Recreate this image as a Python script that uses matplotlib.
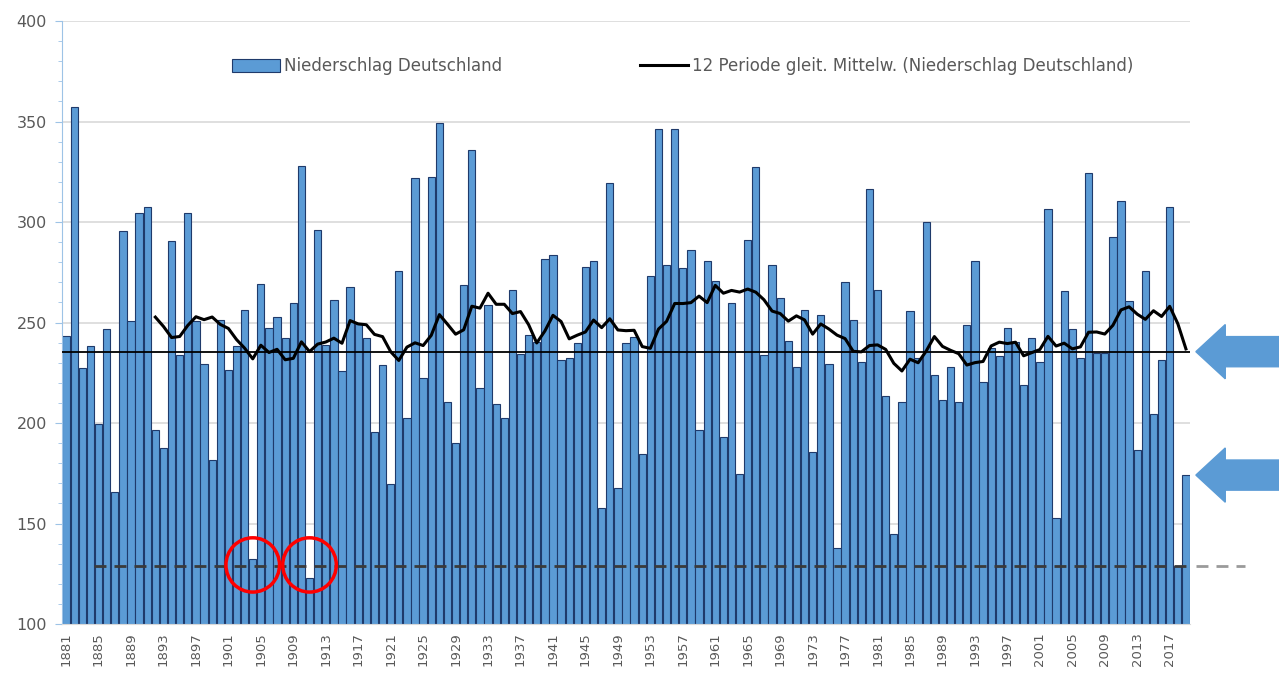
import numpy as np
import pandas as pd
import matplotlib.pyplot as plt
from matplotlib.patches import Ellipse, Polygon
from matplotlib import transforms


# 1. Dados

anos = np.arange(1881, 2020)

niederschlag = [
    243.4, 357.1, 227.5, 238.3, 199.5, 246.8, 165.5, 295.3, 250.6, 304.3,  # 1881-1890
    307.6, 196.4, 187.7, 290.8, 233.8, 304.7, 251.0, 229.3, 181.4, 251.4,  # 1891-1900
    226.2, 238.3, 256.0, 132.5, 269.1, 247.4, 252.8, 242.3, 259.5, 327.8,  # 1901-1910
    123.0, 296.2, 238.7, 261.3, 225.7, 267.6, 249.5, 242.3, 195.3, 228.9,  # 1911-1920
    169.6, 275.4, 202.7, 321.9, 222.4, 322.2, 349.5, 210.3, 189.9, 268.5,  # 1921-1930
    336.0, 217.5, 258.6, 209.4, 202.7, 266.4, 234.4, 243.8, 240.5, 281.7,  # 1931-1940
    283.5, 231.5, 232.5, 239.6, 277.6, 280.5, 157.5, 319.3, 167.5, 239.6,  # 1941-1950
    242.9, 184.4, 273.1, 346.3, 278.7, 346.3, 277.2, 285.9, 196.4, 280.5,  # 1951-1960
    270.5, 192.8, 259.5, 174.5, 291.3, 327.3, 233.8, 278.7, 262.4, 240.7,  # 1961-1970
    227.8, 256.4, 185.5, 253.7, 229.3, 138.0, 270.3, 251.4, 230.6, 316.5,  # 1971-1980
    266.4, 213.6, 144.7, 210.7, 255.9, 232.4, 299.8, 223.9, 211.6, 227.8,  # 1981-1990
    210.7, 248.6, 280.8, 220.6, 237.4, 233.3, 247.4, 240.5, 218.8, 242.3,  # 1991-2000
    230.6, 306.5, 152.8, 265.8, 246.8, 232.5, 324.6, 235.0, 235.0, 292.6,  # 2001-2010
    310.7, 260.9, 186.8, 275.4, 204.3, 231.5, 307.4, 128.9, 174.1,         # 2011-2019
]

media_longa = 235.5
anos_circulo = [1904, 1911]

rotulo_barras = "Niederschlag Deutschland"
rotulo_media = "12 Periode gleit. Mittelw. (Niederschlag Deutschland)"


# 2. Figura

plt.rcParams["font.family"] = ["DejaVu Sans"]
cinza_texto = "#595959"
azul = "#5b9bd5"

fig = plt.figure(figsize=(12.79, 6.78), dpi=100)
ax = fig.add_axes([0.0485, 0.0796, 0.8819, 0.8894])

barras = ax.bar(anos, niederschlag, width=0.9, color=azul,
                edgecolor="#1f3a6b", linewidth=0.8, label=rotulo_barras, zorder=2)

media_movel = pd.Series(niederschlag).rolling(12).mean()
linha_mm, = ax.plot(anos, media_movel, color="black", linewidth=2.2,
                    label=rotulo_media, zorder=4)

ax.axhline(media_longa, color="black", linewidth=1.3, zorder=3)

# linha tracejada no valor de 2018
valor_2018 = niederschlag[list(anos).index(2018)]
ax.plot([1884.5, 2019.5], [valor_2018, valor_2018], color="#3a3a3a",
        linewidth=2, dashes=(4.3, 2.9), zorder=3)
ax.plot([2020.2, 2026.3], [valor_2018, valor_2018], color="#9a9a9a",
        linewidth=2, dashes=(4.3, 2.9), zorder=3, clip_on=False)

# circulos vermelhos
for ano in anos_circulo:
    circulo = Ellipse((ano, 129.4), width=6.6, height=27, fill=False,
                      edgecolor="red", linewidth=2.5, zorder=5)
    ax.add_patch(circulo)

# setas azuis a direita
trans = transforms.blended_transform_factory(fig.transFigure, ax.transData)
for valor in [media_longa, niederschlag[-1]]:
    ponta, base, fim = 0.935, 0.958, 1.01
    pontos = [
        (ponta, valor),
        (base, valor + 13.5),
        (base, valor + 7.5),
        (fim, valor + 7.5),
        (fim, valor - 7.5),
        (base, valor - 7.5),
        (base, valor - 13.5),
    ]
    seta = Polygon(pontos, closed=True, transform=trans, color=azul,
                   clip_on=False, zorder=6)
    fig.add_artist(seta)


# 3. Eixos

ax.set_xlim(1880.5, 2019.5)
ax.set_ylim(100, 400)

ax.set_yticks(range(100, 401, 50))
ax.set_yticks(range(100, 401, 10), minor=True)
ax.yaxis.grid(True, which="major", color="#d9d9d9", linewidth=1.2)
ax.set_axisbelow(True)

ax.set_xticks(anos[::4])
ax.set_xticklabels(anos[::4], rotation=90)

ax.tick_params(axis="y", which="major", length=5, color="#9dc3e6",
               labelsize=11.5, labelcolor=cinza_texto, pad=6)
ax.tick_params(axis="y", which="minor", length=3, color="#9dc3e6")
ax.tick_params(axis="x", length=0, labelsize=9.5, labelcolor=cinza_texto, pad=6)

ax.spines["top"].set_visible(False)
ax.spines["right"].set_visible(False)
ax.spines["left"].set_color("#9dc3e6")
ax.spines["bottom"].set_color("#d9d9d9")


# 4. Legenda

leg = fig.legend(handles=[barras, linha_mm], labels=[rotulo_barras, rotulo_media],
                 loc="center left", bbox_to_anchor=(232 / 1279, 1 - 66 / 678),
                 ncol=2, frameon=False, fontsize=12, borderpad=0,
                 borderaxespad=0, handlelength=2.9, handleheight=0.8,
                 handletextpad=0.2, columnspacing=8.3)
for texto in leg.get_texts():
    texto.set_color(cinza_texto)

fig.savefig("out.png", dpi=100)
plt.close()
